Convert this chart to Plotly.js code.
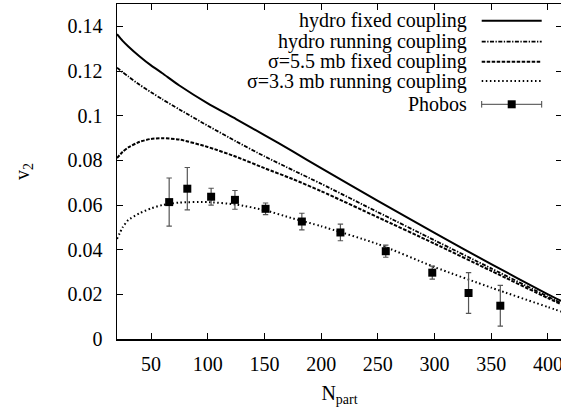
<!DOCTYPE html>
<html><head><meta charset="utf-8">
<script src="https://cdn.plot.ly/plotly-3.0.1.min.js"></script>
<style>html,body{margin:0;padding:0;overflow:hidden;background:#fff}</style>
</head><body><div id="chart" style="width:563px;height:411px"></div>
<script>
// Model curves (Npart grid)
const npart = [20, 25, 30, 40, 50, 60, 75, 100, 125, 150, 175, 200, 250, 300, 350, 400, 412];
const hydroFixed   = [0.1365, 0.1335, 0.1310, 0.1265, 0.1225, 0.1190, 0.1135, 0.1055, 0.0985, 0.0913, 0.0840, 0.0765, 0.0618, 0.0475, 0.0335, 0.0200, 0.0170];
const hydroRunning = [0.1215, 0.1195, 0.1175, 0.1138, 0.1105, 0.1073, 0.1028, 0.0955, 0.0885, 0.0818, 0.0756, 0.0695, 0.0568, 0.0442, 0.0316, 0.0190, 0.0160];
const sigma55Fixed = [0.0810, 0.0838, 0.0858, 0.0883, 0.0896, 0.0899, 0.0893, 0.0860, 0.0816, 0.0765, 0.0716, 0.0662, 0.0545, 0.0427, 0.0305, 0.0183, 0.0155];
const sigma33Run   = [0.0448, 0.0500, 0.0533, 0.0563, 0.0585, 0.0600, 0.0611, 0.0613, 0.0602, 0.0577, 0.0540, 0.0505, 0.0425, 0.0322, 0.0230, 0.0143, 0.0122];

// Phobos data
const phobosN   = [66, 82, 103, 124, 151, 183, 217, 257, 298, 330, 358];
const phobosV2  = [0.0613, 0.0673, 0.0637, 0.0623, 0.0583, 0.0526, 0.0477, 0.0393, 0.0297, 0.0206, 0.0149];
const phobosErr = [0.0108, 0.0095, 0.0038, 0.0042, 0.0026, 0.0037, 0.0037, 0.0027, 0.0029, 0.0091, 0.0091];

const legendNames = ["hydro fixed coupling", "hydro running coupling", "σ=5.5 mb fixed coupling", "σ=3.3 mb running coupling", "Phobos"];
const xTicks = [50, 100, 150, 200, 250, 300, 350, 400];

const FONT = 'Liberation Serif, Times New Roman, serif';
const styles = [
  {width: 2, dash: 'solid'},
  {width: 1.8, dash: '4px,1.5px,1.3px,1.5px'},
  {width: 2, dash: '3.5px,1.5px'},
  {width: 2, dash: '1.5px,2.6px'}
];
const series = [hydroFixed, hydroRunning, sigma55Fixed, sigma33Run];

const traces = series.map((s, i) => ({
  x: npart, y: s, type: 'scatter', mode: 'lines', name: legendNames[i],
  line: {color: '#000', width: styles[i].width, dash: styles[i].dash, shape: 'spline', smoothing: 0.6},
  hoverinfo: 'skip', showlegend: false
}));
traces.push({
  x: phobosN, y: phobosV2, type: 'scatter', mode: 'markers', name: legendNames[4],
  marker: {symbol: 'square', size: 8, color: '#000'},
  error_y: {type: 'data', array: phobosErr, visible: true, color: '#555', thickness: 1.2, width: 2.7},
  showlegend: false
});

// Legend drawn in paper coords (gnuplot style: text right-aligned, sample on the right)
const px2x = p => (p - 117) / 445;
const py2y = p => (339 - p) / 335;
const rowY = [20.7, 41.7, 61.7, 81, 104.3].map(py2y);
const sx0 = px2x(481.7), sx1 = px2x(541.7), textX = px2x(469);
const annotations = legendNames.map((n, i) => ({
  xref: 'paper', yref: 'paper', x: textX, y: rowY[i], text: n, showarrow: false,
  xanchor: 'right', yanchor: 'middle', font: {family: FONT, size: 20, color: '#000'}
}));
const shapes = [];
for (let i = 0; i < 4; i++) {
  shapes.push({type: 'line', xref: 'paper', yref: 'paper', x0: sx0, x1: sx1, y0: rowY[i], y1: rowY[i],
    line: {color: '#000', width: styles[i].width, dash: styles[i].dash}});
}
const ph = rowY[4], cap = 3.3 / 335;
shapes.push({type: 'line', xref: 'paper', yref: 'paper', x0: sx0, x1: sx1, y0: ph, y1: ph, line: {color: '#444', width: 1}});
shapes.push({type: 'line', xref: 'paper', yref: 'paper', x0: sx0, x1: sx0, y0: ph - cap, y1: ph + cap, line: {color: '#444', width: 1}});
shapes.push({type: 'line', xref: 'paper', yref: 'paper', x0: sx1, x1: sx1, y0: ph - cap, y1: ph + cap, line: {color: '#444', width: 1}});
const cx = (sx0 + sx1) / 2;
shapes.push({type: 'rect', xref: 'paper', yref: 'paper', x0: cx - 4/445, x1: cx + 4/445, y0: ph - 4/335, y1: ph + 4/335,
  line: {width: 0}, fillcolor: '#000'});

const axisCommon = {
  showline: true, linecolor: '#000', linewidth: 1.5, mirror: 'ticks',
  ticks: 'inside', ticklen: 6, tickwidth: 1, tickcolor: '#000',
  showgrid: false, zeroline: false,
  tickfont: {family: FONT, size: 20, color: '#000'}
};

const layout = {
  width: 563, height: 411,
  margin: {l: 117, r: 1, t: 4, b: 72},
  paper_bgcolor: '#fff', plot_bgcolor: '#fff',
  font: {family: FONT, size: 20, color: '#000'},
  xaxis: Object.assign({}, axisCommon, {
    range: [20, 412.4], tickmode: 'array', tickvals: xTicks, ticktext: xTicks.map(String),
    ticklabelstandoff: 6,
    title: {text: 'N<sub>part</sub>', font: {family: FONT, size: 20, color: '#000'}, standoff: 12}
  }),
  yaxis: Object.assign({}, axisCommon, {
    range: [0, 0.15], tick0: 0, dtick: 0.02,
    ticklabelstandoff: 9,
    title: {text: 'v<sub>2</sub>', font: {family: FONT, size: 20, color: '#000'}, standoff: 32}
  }),
  annotations: annotations,
  shapes: shapes,
  showlegend: false
};

Plotly.newPlot('chart', traces, layout, {displayModeBar: false, staticPlot: true});
</script></body></html>
